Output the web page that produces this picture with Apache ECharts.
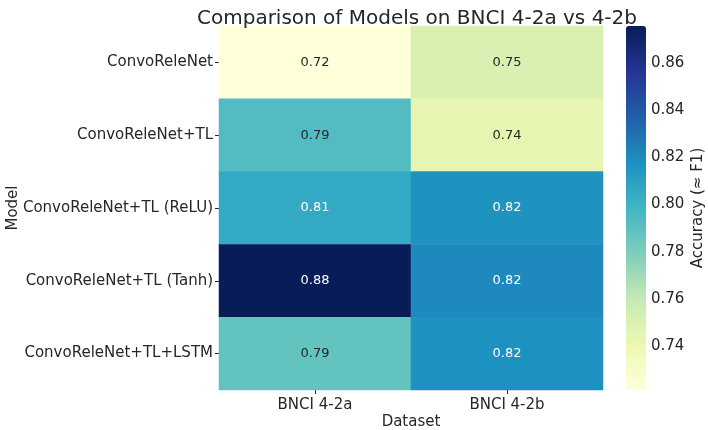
<!DOCTYPE html>
<html>
<head>
<meta charset="utf-8">
<script src="https://cdn.jsdelivr.net/npm/echarts@6/dist/echarts.min.js"></script>
<style>
  html, body { margin: 0; padding: 0; background: #fff; }
  #main { width: 708px; height: 430px; }
</style>
</head>
<body>
<div id="main"></div>
<script>
// data
var models = ['ConvoReleNet', 'ConvoReleNet+TL', 'ConvoReleNet+TL (ReLU)', 'ConvoReleNet+TL (Tanh)', 'ConvoReleNet+TL+LSTM'];
var datasets = ['BNCI 4-2a', 'BNCI 4-2b'];
var acc42a = [0.7214, 0.7933, 0.8055, 0.8757, 0.7879];
var acc42b = [0.7509, 0.7442, 0.8170, 0.8210, 0.8180];
var cbarTicks = [0.74, 0.76, 0.78, 0.80, 0.82, 0.84, 0.86];
// YlGnBu
var ylgnbu = ['#ffffd9', '#edf8b1', '#c7e9b4', '#7fcdbb', '#41b6c4', '#1d91c0', '#225ea8', '#253494', '#081d58'];

var vmin = Math.min.apply(null, acc42a.concat(acc42b));
var vmax = Math.max.apply(null, acc42a.concat(acc42b));

var cells = [];
[acc42a, acc42b].forEach(function (col, i) {
    col.forEach(function (v, j) {
        cells.push({
            value: [i, j, v],
            label: { color: v > 0.8 ? '#ffffff' : '#262626' }
        });
    });
});

var font = 'DejaVu Sans';
var chart = echarts.init(document.getElementById('main'));
var option = {
    backgroundColor: '#fff',
    animation: false,
    title: {
        text: 'Comparison of Models on BNCI 4-2a vs 4-2b',
        left: 412,
        textAlign: 'center',
        top: 4,
        textStyle: { fontFamily: font, fontSize: 20, fontWeight: 'normal', color: '#262626' }
    },
    grid: [
        { left: 219, top: 26, width: 384, height: 364, outerBoundsMode: 'none', containLabel: false },
        { left: 626, top: 26, width: 20, height: 364, outerBoundsMode: 'none', containLabel: false }
    ],
    xAxis: [{
        gridIndex: 0,
        type: 'category',
        data: datasets,
        name: 'Dataset',
        nameLocation: 'middle',
        nameGap: 25,
        nameMoveOverlap: false,
        nameTextStyle: { fontFamily: font, fontSize: 15, color: '#262626' },
        axisLine: { show: false },
        axisTick: { show: true, alignWithLabel: true, length: 4, lineStyle: { color: '#262626' } },
        axisLabel: { fontFamily: font, fontSize: 15, color: '#262626', margin: 8 },
        splitLine: { show: false }
    }, {
        gridIndex: 1,
        type: 'value',
        show: false,
        min: 0,
        max: 1
    }],
    yAxis: [{
        gridIndex: 0,
        type: 'category',
        data: models,
        inverse: true,
        name: 'Model',
        nameLocation: 'middle',
        nameGap: 198,
        nameRotate: 90,
        nameMoveOverlap: false,
        nameTextStyle: { fontFamily: font, fontSize: 15, color: '#262626' },
        axisLine: { show: false },
        axisTick: { show: true, alignWithLabel: true, length: 4, lineStyle: { color: '#262626' } },
        axisLabel: { fontFamily: font, fontSize: 15, color: '#262626', margin: 6 },
        splitLine: { show: false }
    }, {
        gridIndex: 1,
        type: 'value',
        position: 'right',
        min: vmin,
        max: vmax,
        name: 'Accuracy (≈ F1)',
        nameLocation: 'middle',
        nameRotate: 90,
        nameGap: 45,
        nameMoveOverlap: false,
        nameTextStyle: { fontFamily: font, fontSize: 15, color: '#262626' },
        axisLine: { show: false },
        axisTick: { show: true, length: 4, customValues: cbarTicks, lineStyle: { color: '#262626' } },
        axisLabel: {
            fontFamily: font, fontSize: 15, color: '#262626', margin: 5,
            customValues: cbarTicks,
            formatter: function (v) { return v.toFixed(2); }
        },
        splitLine: { show: false }
    }],
    visualMap: {
        type: 'continuous',
        seriesIndex: 0,
        min: vmin,
        max: vmax,
        calculable: false,
        orient: 'vertical',
        left: 626,
        top: 26,
        padding: 0,
        itemWidth: 20,
        itemHeight: 364,
        text: null,
        showLabel: false,
        inRange: { color: ylgnbu }
    },
    series: [{
        type: 'heatmap',
        xAxisIndex: 0,
        yAxisIndex: 0,
        data: cells,
        label: {
            show: true,
            fontFamily: font,
            fontSize: 13,
            formatter: function (p) { return p.value[2].toFixed(2); }
        },
        itemStyle: { borderWidth: 0 },
        emphasis: { disabled: true }
    }, {
        type: 'scatter',
        xAxisIndex: 1,
        yAxisIndex: 1,
        data: [],
        silent: true
    }]
};
chart.setOption(option);
</script>
</body>
</html>
